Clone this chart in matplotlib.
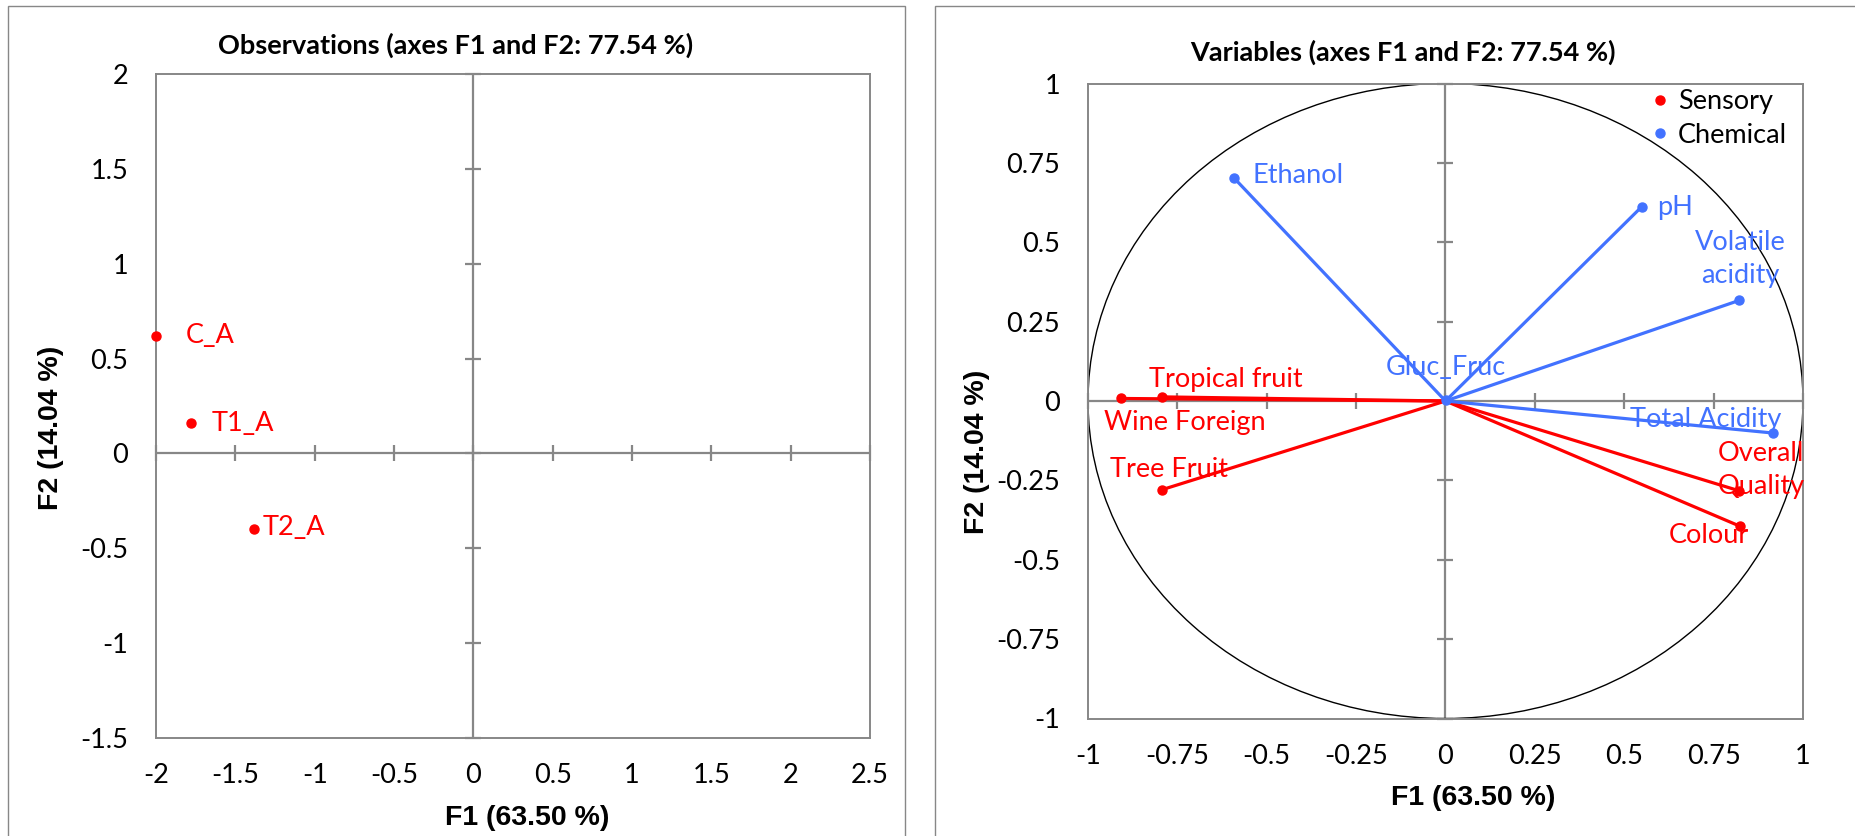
import numpy as np
import matplotlib
matplotlib.use('Agg')
import matplotlib.pyplot as plt
from matplotlib.patches import Ellipse, Rectangle
from matplotlib.lines import Line2D

plt.rcParams['font.family'] = ['Lato', 'DejaVu Sans']
plt.rcParams['font.size'] = 19.5

red = '#FF0000'
blue = '#4272FF'
grey = '#878787'

# observations (left panel)
obs_names = ['C_A', 'T1_A', 'T2_A']
obs_f1 = [-2.00, -1.78, -1.38]
obs_f2 = [0.62, 0.16, -0.40]

# variables (right panel)
sens_names = ['Wine Foreign', 'Tropical fruit', 'Tree Fruit', 'Overall\nQuality', 'Colour']
sens_f1 = [-0.909, -0.792, -0.792, 0.822, 0.825]
sens_f2 = [0.008, 0.013, -0.279, -0.283, -0.395]
chem_names = ['Ethanol', 'pH', 'Volatile\nacidity', 'Gluc_Fruc', 'Total Acidity']
chem_f1 = [-0.592, 0.549, 0.822, 0.002, 0.917]
chem_f2 = [0.703, 0.612, 0.317, 0.003, -0.101]

obs_xticks = [-2, -1.5, -1, -0.5, 0, 0.5, 1, 1.5, 2, 2.5]
obs_yticks = [-1.5, -1, -0.5, 0, 0.5, 1, 1.5, 2]
var_ticks = [-1, -0.75, -0.5, -0.25, 0, 0.25, 0.5, 0.75, 1]

W, H = 1856, 836
fs = 19.5
fig = plt.figure(figsize=(W/100, H/100), dpi=100)

def fx(px): return px/W
def fy(py): return 1 - py/H

# panel frames
fig.patches.append(Rectangle((fx(8), fy(900)), fx(905)-fx(8), fy(6)-fy(900),
                             transform=fig.transFigure, fill=False, ec=grey, lw=1))
fig.patches.append(Rectangle((fx(935), fy(900)), fx(1900)-fx(935), fy(6)-fy(900),
                             transform=fig.transFigure, fill=False, ec=grey, lw=1))

ax1 = fig.add_axes([fx(156), fy(738), fx(870)-fx(156), fy(74)-fy(738)])
ax2 = fig.add_axes([fx(1088), fy(718.5), fx(1803)-fx(1088), fy(83.5)-fy(718.5)])

def style(ax, xt, yt):
    for s in ax.spines.values():
        s.set_color(grey)
        s.set_linewidth(1.4)
    ax.set_xticks(xt)
    ax.set_yticks(yt)
    ax.set_xticklabels(['%g' % v for v in xt])
    ax.set_yticklabels(['%g' % v for v in yt])
    ax.tick_params(length=0, labelsize=fs)
    ax.tick_params(axis='y', pad=20)
    ax.tick_params(axis='x', pad=18)
    ax.axhline(0, color=grey, lw=1.6, zorder=1)
    ax.axvline(0, color=grey, lw=1.6, zorder=1)
    ax.plot(xt, np.zeros(len(xt)), ls='none', marker='|', ms=12, mew=1.6, color=grey, zorder=1, clip_on=False)
    ax.plot(np.zeros(len(yt)), yt, ls='none', marker='_', ms=12, mew=1.6, color=grey, zorder=1, clip_on=False)

# left: observations
ax1.set_xlim(-2, 2.5)
ax1.set_ylim(-1.5, 2)
style(ax1, obs_xticks, obs_yticks)
ax1.plot(obs_f1, obs_f2, ls='none', marker='o', ms=6.5, color=red, zorder=3, clip_on=False)
obs_off = [(30, 0), (21, 0), (8, 2)]
for n, x, y, o in zip(obs_names, obs_f1, obs_f2, obs_off):
    ax1.annotate(n, (x, y), xytext=(o[0]*0.72, o[1]*0.72), textcoords='offset points',
                 ha='left', va='center', color=red, fontsize=fs)

# right: variables
ax2.set_xlim(-1, 1)
ax2.set_ylim(-1, 1)
style(ax2, var_ticks, var_ticks)
ax2.add_patch(Ellipse((0, 0), 2, 2, fill=False, ec='black', lw=1.0, zorder=2))
for x, y in zip(sens_f1, sens_f2):
    ax2.plot([0, x], [0, y], color=red, lw=2.3, zorder=3)
for x, y in zip(chem_f1, chem_f2):
    ax2.plot([0, x], [0, y], color=blue, lw=2.3, zorder=3)
ax2.plot(sens_f1, sens_f2, ls='none', marker='o', ms=6.5, color=red, zorder=4)
ax2.plot(chem_f1, chem_f2, ls='none', marker='o', ms=6.5, color=blue, zorder=4)

# label offsets in pixels (dx, dy up), alignment
sens_lab = [(-17, -24, 'left'), (-13, 17, 'left'), (-52, 20, 'left'), (22, 21, 'center'), (-32, -9, 'center')]
chem_lab = [(19, 2, 'left'), (15, -1, 'left'), (1, 41, 'center'), (0, 33, 'center'), (8, 14, 'right')]
for names, xs, ys, labs, c in [(sens_names, sens_f1, sens_f2, sens_lab, red),
                               (chem_names, chem_f1, chem_f2, chem_lab, blue)]:
    for n, x, y, (dx, dy, ha) in zip(names, xs, ys, labs):
        ax2.annotate(n, (x, y), xytext=(dx*0.72, dy*0.72), textcoords='offset points',
                     ha=ha, va='center', color=c, fontsize=fs, linespacing=1.4, zorder=5)

handles = [Line2D([], [], ls='none', marker='o', ms=6.5, color=red),
           Line2D([], [], ls='none', marker='o', ms=6.5, color=blue)]
fig.legend(handles, ['Sensory', 'Chemical'], loc='upper left',
           bbox_to_anchor=(fx(1652), fy(89)), frameon=False, fontsize=fs,
           handlelength=0.6, handletextpad=0.35, borderpad=0, borderaxespad=0,
           labelspacing=0.33)

# titles and axis titles
fig.text(fx(456), fy(45), 'Observations (axes F1 and F2: 77.54 %)', ha='center', va='center',
         fontsize=fs, fontweight='bold')
fig.text(fx(1403), fy(52), 'Variables (axes F1 and F2: 77.54 %)', ha='center', va='center',
         fontsize=fs, fontweight='bold')
af = dict(family='Liberation Sans', fontsize=20.5, fontweight='bold', ha='center', va='center')
fig.text(fx(527), fy(818), 'F1 (63.50 %)', **af)
fig.text(fx(1473), fy(798), 'F1 (63.50 %)', **af)
fig.text(fx(51), fy(428), 'F2 (14.04 %)', rotation=90, **af)
fig.text(fx(977), fy(452), 'F2 (14.04 %)', rotation=90, **af)

fig.savefig('out.png', dpi=100)
